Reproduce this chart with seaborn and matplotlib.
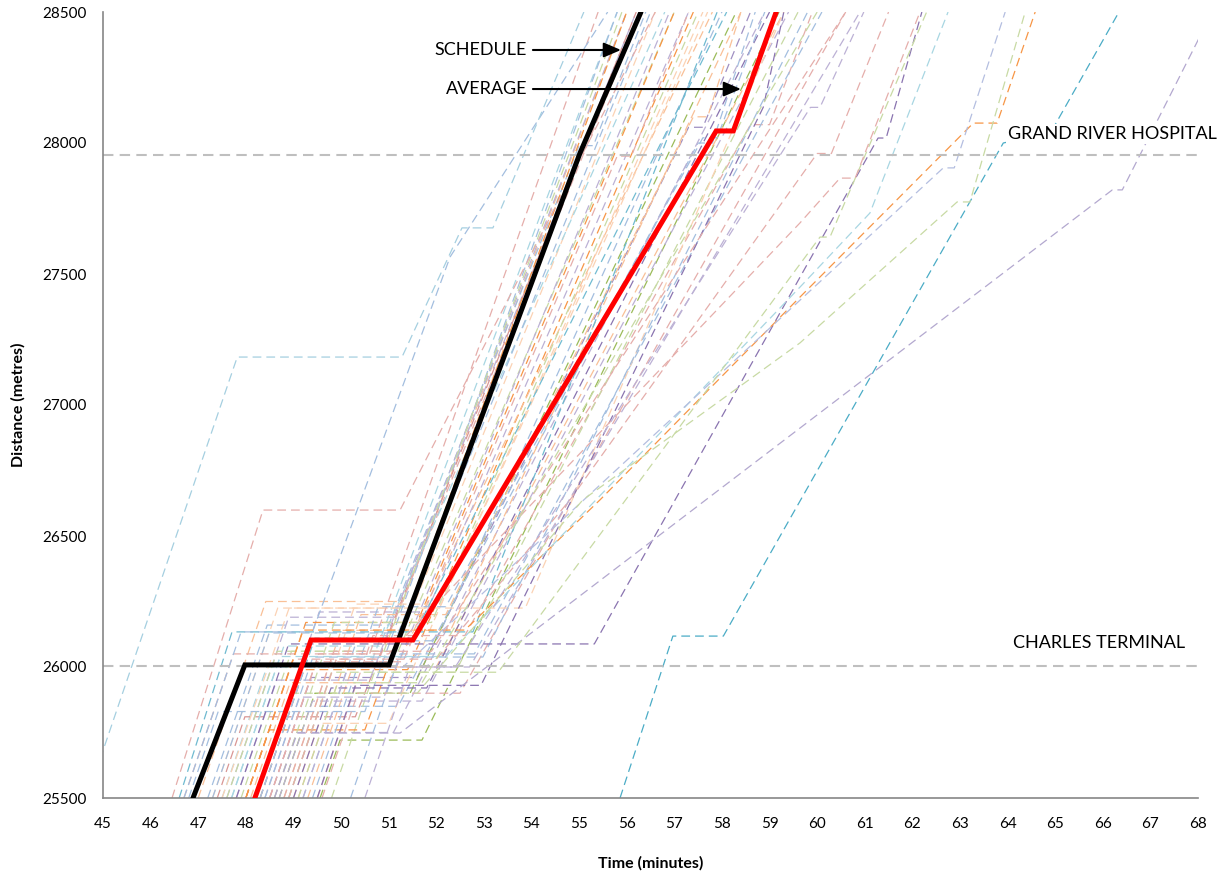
import matplotlib
matplotlib.use("Agg")
import matplotlib.pyplot as plt
import pandas as pd
import seaborn as sns

# ---------------- data (minutes, metres) ----------------
sched_t = [46.89, 47.98, 51.01, 55.02, 56.30]
sched_d = [25500, 26008, 26008, 27962, 28500]
avg_t = [48.19, 49.37, 51.51, 57.88, 58.24, 59.14]
avg_d = [25500, 26103, 26103, 28046, 28046, 28500]

stations = ["CHARLES TERMINAL", "GRAND RIVER HOSPITAL"]
station_d = [26004, 27955]
x_ticks = list(range(45, 69))
y_ticks = [25500, 26000, 26500, 27000, 27500, 28000, 28500]

# palette tints
LB, LC, C, LR, LR2 = "#A3BEDF", "#A8D6E2", "#4BACC6", "#E5AEAB", "#D99694"
LG, G, LP, P = "#C8DAA4", "#9BBB59", "#BCB1D5", "#8A74B0"
LO, PE, O = "#F9C097", "#FBD2B4", "#F79646"

t_b01 = [47.0, 48.42, 51.3, 56.0];  d_b01 = [25500, 26250, 26250, 28500]
t_b02 = [47.3, 48.67, 51.5, 56.6];  d_b02 = [25500, 26225, 26225, 28500]
t_b03 = [47.6, 48.9, 51.1, 56.2];   d_b03 = [25500, 26190, 26190, 28500]
t_b04 = [47.2, 48.45, 51.0, 55.0, 55.3, 56.4]; d_b04 = [25500, 26160, 26160, 27990, 27990, 28500]
t_b05 = [47.9, 48.96, 51.2, 57.0];  d_b05 = [25500, 26060, 26060, 28500]
t_b06 = [48.0, 49.0, 50.8, 56.3];   d_b06 = [25500, 26030, 26030, 28500]
t_b07 = [47.5, 48.44, 50.6, 55.8];  d_b07 = [25500, 26000, 26000, 28500]
t_b08 = [48.3, 49.22, 51.4, 57.4];  d_b08 = [25500, 25990, 25990, 28500]
t_b09 = [48.5, 49.37, 51.6, 57.3, 57.6, 58.6]; d_b09 = [25500, 25960, 25960, 28060, 28060, 28500]
t_b10 = [48.1, 48.93, 51.0, 57.8];  d_b10 = [25500, 25940, 25940, 28500]
t_b11 = [48.7, 49.45, 51.45, 58.3]; d_b11 = [25500, 25900, 25900, 28500]
t_b12 = [48.4, 49.13, 50.9, 56.9];  d_b12 = [25500, 25885, 25885, 28500]
t_b13 = [48.9, 49.56, 51.2, 57.5, 57.8, 58.7]; d_b13 = [25500, 25850, 25850, 28000, 28000, 28500]
t_b14 = [47.4, 47.98, 50.3, 56.2];  d_b14 = [25500, 25810, 25810, 28500]
t_b15 = [49.0, 49.54, 51.0, 57.6];  d_b15 = [25500, 25785, 25785, 28500]
t_b16 = [49.56, 49.98, 51.7, 59.2]; d_b16 = [25500, 25721, 25721, 28500]
t_b17 = [48.6, 49.07, 51.1, 58.9];  d_b17 = [25500, 25750, 25750, 28500]
t_b18 = [49.2, 50.33, 52.0, 58.0];  d_b18 = [25500, 26100, 26100, 28500]
t_b19 = [48.8, 50.0, 52.3, 58.4];   d_b19 = [25500, 26140, 26140, 28500]
t_b20 = [49.5, 50.67, 52.6, 58.6, 59.0, 59.9]; d_b20 = [25500, 26120, 26120, 28070, 28070, 28500]
t_b21 = [48.2, 49.54, 51.8, 57.3];  d_b21 = [25500, 26210, 26210, 28500]
t_b22 = [47.7, 48.8, 50.8, 56.8];   d_b22 = [25500, 26080, 26080, 28500]
t_b23 = [49.3, 50.24, 52.0, 59.3];  d_b23 = [25500, 26000, 26000, 28500]
t_b24 = [49.8, 50.7, 52.4, 59.6];   d_b24 = [25500, 25980, 25980, 28500]
t_b25 = [50.2, 51.24, 52.8, 60.1];  d_b25 = [25500, 26050, 26050, 28500]
t_b26 = [48.0, 49.26, 51.6, 57.0];  d_b26 = [25500, 26170, 26170, 28500]
t_b27 = [47.8, 48.65, 50.6, 56.0];  d_b27 = [25500, 25950, 25950, 28500]
t_b28 = [48.5, 49.48, 51.3, 55.8, 56.1, 57.3]; d_b28 = [25500, 26020, 26020, 27950, 27950, 28500]
t_b29 = [46.8, 47.42, 50.5, 55.8];  d_b29 = [25500, 25830, 25830, 28500]
t_b30 = [48.9, 50.3, 52.1, 57.7];   d_b30 = [25500, 26240, 26240, 28500]
t_b31 = [49.0, 49.79, 51.8, 59.0];  d_b31 = [25500, 25920, 25920, 28500]
t_b32 = [48.3, 49.45, 51.5, 58.1];  d_b32 = [25500, 26110, 26110, 28500]
t_b33 = [47.6, 48.66, 50.9, 55.9];  d_b33 = [25500, 26060, 26060, 28500]
t_b34 = [49.1, 50.42, 52.2, 57.4, 57.7, 58.4]; d_b34 = [25500, 26200, 26200, 28100, 28100, 28500]
t_b35 = [48.7, 49.4, 51.7, 59.4];   d_b35 = [25500, 25870, 25870, 28500]
t_b36 = [47.3, 48.49, 51.2, 56.5];  d_b36 = [25500, 26130, 26130, 28500]
t_b37 = [49.6, 50.35, 52.5, 60.6];  d_b37 = [25500, 25900, 25900, 28500]
t_b38 = [48.0, 48.49, 50.5, 56.0];  d_b38 = [25500, 25760, 25760, 28500]
t_b39 = [50.5, 51.44, 52.7, 60.9];  d_b39 = [25500, 26000, 26000, 28500]
t_b40 = [46.7, 47.74, 50.6, 55.4];  d_b40 = [25500, 26050, 26050, 28500]
t_b41 = [48.6, 49.86, 51.9, 57.5];  d_b41 = [25500, 26170, 26170, 28500]
t_b42 = [49.4, 50.78, 52.2, 57.6, 57.9, 58.9]; d_b42 = [25500, 26230, 26230, 28020, 28020, 28500]
t_p1 = [47.5, 48.91, 53.87, 59.3];  d_p1 = [25500, 26225, 26225, 28500]
t_p2 = [48.4, 49.41, 52.98, 59.8];  d_p2 = [25500, 26038, 26038, 28500]
t_T1 = [46.6, 47.71, 52.77, 57.9];  d_T1 = [25500, 26134, 26134, 28500]
t_T4 = [46.7, 47.9, 49.4, 52.29, 55.6]; d_T4 = [25500, 26134, 26134, 27565, 28500]
t_Y1 = [49.5, 50.3, 52.94, 58.87, 59.3]; d_Y1 = [25500, 25930, 25930, 28137, 28500]
t_A = [44.66, 47.82, 51.28, 52.54, 53.19, 55.1]; d_A = [25500, 27183, 27183, 27676, 27676, 28500]
t_B = [46.45, 48.36, 51.24, 56.6];  d_B = [25500, 26599, 26599, 28500]
t_C = [47.8, 48.9, 55.32, 61.28, 61.45, 62.2]; d_C = [25500, 26088, 26088, 28019, 28019, 28500]
t_D = [55.86, 56.97, 58.03, 63.91, 64.9, 66.34]; d_D = [25500, 26118, 26118, 28000, 28038, 28500]
t_E = [48.6, 49.08, 51.24, 66.2, 66.41, 68.3]; d_E = [25500, 25748, 25748, 27821, 27821, 28500]
t_F = [48.0, 49.2, 52.6, 55.44, 59.64, 63.28, 63.78, 64.58]; d_F = [25500, 26141, 26141, 26638, 27412, 28076, 28076, 28500]
t_G = [47.7, 48.72, 52.2, 59.64, 61.11, 62.75]; d_G = [25500, 26040, 26040, 27450, 27733, 28500]
t_H = [48.3, 49.24, 51.3, 59.64, 62.65, 62.88, 63.95]; d_H = [25500, 26000, 26000, 27400, 27905, 27905, 28500]
t_I = [48.2, 48.95, 51.6, 55.08, 59.64, 62.94, 63.21, 64.37]; d_I = [25500, 25900, 25900, 26638, 27237, 27775, 27775, 28500]
t_J = [48.9, 49.8, 53.3, 60.06, 60.27, 62.3]; d_J = [25500, 25980, 25980, 27641, 27641, 28500]
t_K = [48.5, 49.53, 51.0, 59.64, 60.48, 60.8, 62.16]; d_K = [25500, 26050, 26050, 27695, 27866, 27866, 28500]
t_S1 = [48.9, 49.9, 52.0, 54.81, 60.0, 60.3, 61.5]; d_S1 = [25500, 26030, 26030, 26638, 27960, 27960, 28500]
t_X1 = [49.2, 50.15, 52.4, 59.86, 60.06, 60.98]; d_X1 = [25500, 26000, 26000, 28136, 28136, 28500]
t_X2 = [48.8, 49.85, 51.9, 60.6];   d_X2 = [25500, 26060, 26060, 28500]
t_X3 = [49.1, 49.93, 51.7, 60.0];   d_X3 = [25500, 25940, 25940, 28500]

TRIPS = [
    ("b01", t_b01, d_b01, LO), ("b02", t_b02, d_b02, PE), ("b03", t_b03, d_b03, LP),
    ("b04", t_b04, d_b04, LB), ("b05", t_b05, d_b05, LG), ("b06", t_b06, d_b06, LR),
    ("b07", t_b07, d_b07, LC), ("b08", t_b08, d_b08, O), ("b09", t_b09, d_b09, "#9F8FC2"),
    ("b10", t_b10, d_b10, LO), ("b11", t_b11, d_b11, G), ("b12", t_b12, d_b12, LP),
    ("b13", t_b13, d_b13, LB), ("b14", t_b14, d_b14, LR2), ("b15", t_b15, d_b15, PE),
    ("b16", t_b16, d_b16, G), ("b17", t_b17, d_b17, LP), ("b18", t_b18, d_b18, LB),
    ("b19", t_b19, d_b19, LO), ("b20", t_b20, d_b20, LR), ("b21", t_b21, d_b21, LP),
    ("b22", t_b22, d_b22, LC), ("b23", t_b23, d_b23, LO), ("b24", t_b24, d_b24, LG),
    ("b25", t_b25, d_b25, LB), ("b26", t_b26, d_b26, O), ("b27", t_b27, d_b27, LP),
    ("b28", t_b28, d_b28, LR), ("b29", t_b29, d_b29, LB), ("b30", t_b30, d_b30, PE),
    ("b31", t_b31, d_b31, P), ("b32", t_b32, d_b32, "#72BCD2"), ("b33", t_b33, d_b33, LG),
    ("b34", t_b34, d_b34, LO), ("b35", t_b35, d_b35, LP), ("b36", t_b36, d_b36, LB),
    ("b37", t_b37, d_b37, LR), ("b38", t_b38, d_b38, O), ("b39", t_b39, d_b39, LP),
    ("b40", t_b40, d_b40, LR), ("b41", t_b41, d_b41, LG), ("b42", t_b42, d_b42, LB),
    ("p1", t_p1, d_p1, PE), ("p2", t_p2, d_p2, LB), ("T1", t_T1, d_T1, "#6FBAD0"),
    ("T4", t_T4, d_T4, LB), ("Y1", t_Y1, d_Y1, P), ("A", t_A, d_A, "#A5CFE0"),
    ("B", t_B, d_B, LR), ("C", t_C, d_C, P), ("D", t_D, d_D, C), ("E", t_E, d_E, "#B3A8CF"),
    ("F", t_F, d_F, O), ("G", t_G, d_G, LC), ("H", t_H, d_H, "#B4BEE0"), ("I", t_I, d_I, LG),
    ("J", t_J, d_J, LG), ("K", t_K, d_K, LR), ("S1", t_S1, d_S1, LR), ("X1", t_X1, d_X1, LP),
    ("X2", t_X2, d_X2, LR), ("X3", t_X3, d_X3, LG),
]

# ---------------- plot ----------------
sns.set_theme(style="white")
plt.rcParams["font.family"] = ["Lato", "DejaVu Sans"]

fig = plt.figure(figsize=(12.25, 8.75), dpi=100)
ax = fig.add_axes([103 / 1225, 77 / 875, 1095 / 1225, 786 / 875])

rows = []
for name, ts, ds, col in TRIPS:
    for i, (t, d) in enumerate(zip(ts, ds)):
        rows.append({"trip": name, "i": i, "t": t, "d": d})
df = pd.DataFrame(rows)
palette = {name: col for name, _, _, col in TRIPS}
order = [name for name, _, _, _ in TRIPS]

sns.lineplot(data=df, x="t", y="d", hue="trip", hue_order=order, palette=palette,
             estimator=None, sort=False, legend=False, linewidth=0.9, ax=ax)
for ln in ax.lines:
    ln.set_dashes([7, 4])
    ln.set_zorder(2)

for sd in station_d:
    ax.axhline(sd, color="#BFBFBF", lw=1.5, dashes=(5, 3), zorder=2.5)

n0 = len(ax.lines)
sns.lineplot(x=sched_t, y=sched_d, color="black", linewidth=3.6, sort=False,
             estimator=None, ax=ax)
sns.lineplot(x=avg_t, y=avg_d, color="#FF0000", linewidth=3.6, sort=False,
             estimator=None, ax=ax)
for ln in ax.lines[n0:]:
    ln.set_zorder(4)
    ln.set_solid_joinstyle("miter")

# annotations
arrow = dict(arrowstyle="-|>,head_length=0.7,head_width=0.3", color="black",
             lw=1.5, mutation_scale=15, shrinkA=0, shrinkB=0)
ax.annotate("", xy=(55.88, 28355), xytext=(54.03, 28355), arrowprops=arrow, zorder=6)
ax.annotate("", xy=(58.40, 28206), xytext=(54.03, 28206), arrowprops=arrow, zorder=6)
ax.text(53.91, 28355, "SCHEDULE", ha="right", va="center", fontsize=13, color="black", zorder=6)
ax.text(53.91, 28206, "AVERAGE", ha="right", va="center", fontsize=13, color="black", zorder=6)

ax.text(64.12, 26092, stations[0], ha="left", va="center", fontsize=13, color="black",
        bbox=dict(fc="white", ec="none", pad=1.5), zorder=6, clip_on=False)
ax.text(64.01, 28034, stations[1], ha="left", va="center", fontsize=13, color="black",
        bbox=dict(fc="white", ec="none", pad=1.5), zorder=6, clip_on=False)

ax.set_xlim(45, 68)
ax.set_ylim(25500, 28500)
ax.set_xticks(x_ticks)
ax.set_yticks(y_ticks)
ax.set_xticklabels([str(v) for v in x_ticks])
ax.set_yticklabels([str(v) for v in y_ticks])

for s in ["top", "right"]:
    ax.spines[s].set_visible(False)
for s in ["left", "bottom"]:
    ax.spines[s].set_color("#868686")
    ax.spines[s].set_linewidth(1.2)

ax.tick_params(axis="both", which="major", direction="out", length=4, width=1,
               color="#868686", labelsize=11, labelcolor="black")
ax.tick_params(axis="x", pad=10)
ax.tick_params(axis="y", pad=8)
ax.grid(False)

ax.set_xlabel("Time (minutes)", fontsize=11.5, fontweight="bold", color="black")
ax.set_ylabel("Distance (metres)", fontsize=11.5, fontweight="bold", color="black")
ax.xaxis.set_label_coords(0.5, -0.074)
ax.yaxis.set_label_coords(-0.071, 0.5)

fig.savefig("out.png", dpi=100)
